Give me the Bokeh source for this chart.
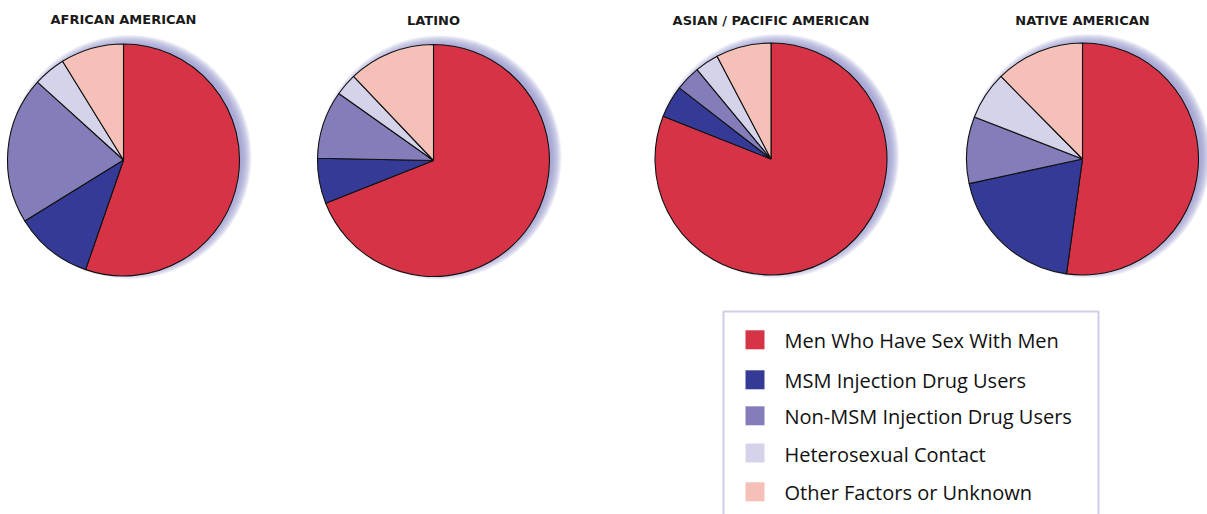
import numpy as np
from bokeh.plotting import figure
from bokeh.models import Range1d, ColumnDataSource
from bokeh.core.properties import value
from bokeh.embed import file_html
from bokeh.resources import INLINE

# --- data -------------------------------------------------------------
groups = ["AFRICAN AMERICAN", "LATINO", "ASIAN / PACIFIC AMERICAN", "NATIVE AMERICAN"]
categories = [
    "Men Who Have Sex With Men",
    "MSM Injection Drug Users",
    "Non-MSM Injection Drug Users",
    "Heterosexual Contact",
    "Other Factors or Unknown",
]
colors = ["#D63347", "#343A96", "#837EBA", "#D5D3EA", "#F4C0B8"]

african_american = [55.3, 10.9, 20.5, 4.5, 8.8]
latino = [69.0, 6.3, 9.5, 3.1, 12.1]
asian_pacific = [81.0, 4.5, 3.5, 3.3, 7.7]
native_american = [52.2, 19.4, 9.3, 6.7, 12.4]
shares = [african_american, latino, asian_pacific, native_american]

# --- layout (pixel units, y measured from the top) ---------------------
W, H = 1207, 514
pie_centers = [(123, 159.5), (433, 160), (770.5, 158.5), (1082, 158.5)]
pie_radius = 116
title_y = [19, 20, 20, 20]
legend_box = (723, 311, 1098, 530)        # left, top, right, bottom
legend_row_y = [339.3, 379.3, 415.3, 452.5, 491.3]
legend_swatch_x = 754.5
legend_text_x = 784


def fy(y):
    """Convert a top-down pixel offset into the plot's y coordinate."""
    return H - y


p = figure(
    width=W, height=H,
    x_range=Range1d(0, W), y_range=Range1d(0, H),
    output_backend="svg", toolbar_location=None,
    min_border=0,
)
p.axis.visible = False
p.grid.visible = False
p.outline_line_color = None
p.background_fill_color = "white"
p.border_fill_color = "white"

# soft drop shadow behind each pie
shadow_dx, shadow_dy = 6, -3
for (cx, cy) in pie_centers:
    for i in range(10):
        p.circle(
            x=cx + shadow_dx, y=fy(cy + shadow_dy),
            radius=pie_radius + 6 - i,
            fill_color="#9894CC", fill_alpha=0.14, line_color=None,
        )

# pies: slices run clockwise from twelve o'clock
for (cx, cy), vals in zip(pie_centers, shares):
    v = np.asarray(vals, dtype=float)
    frac = v / v.sum()
    cum = np.concatenate([[0.0], np.cumsum(frac)])
    src = ColumnDataSource(dict(
        start=np.pi / 2 - cum[:-1] * 2 * np.pi,
        end=np.pi / 2 - cum[1:] * 2 * np.pi,
        color=colors,
        category=categories,
    ))
    p.wedge(
        x=cx, y=fy(cy), radius=pie_radius,
        start_angle="start", end_angle="end", direction="clock",
        fill_color="color", line_color="#111111", line_width=1.1,
        source=src,
    )

# group titles
p.text(
    x=[c[0] for c in pie_centers], y=[fy(t) for t in title_y], text=groups,
    text_font=value("DejaVu Sans"), text_font_style="bold",
    text_font_size="13px", text_color="#1a1a1a",
    text_align="center", text_baseline="middle",
)

# legend box
l, t, r, b = legend_box
p.quad(left=l, right=r, top=fy(t), bottom=fy(b),
       fill_color="white", line_color="#CFCDE8", line_width=2)

p.rect(
    x=[legend_swatch_x] * len(categories), y=[fy(y) for y in legend_row_y],
    width=19, height=19, fill_color=colors, line_color=None,
)
p.text(
    x=[legend_text_x] * len(categories), y=[fy(y + 1) for y in legend_row_y],
    text=categories, text_font=value("Open Sans"), text_font_size="20px",
    text_font_style="normal",
    text_color="#111111", text_align="left", text_baseline="middle",
)

open("out.html", "w").write(file_html(p, INLINE))
